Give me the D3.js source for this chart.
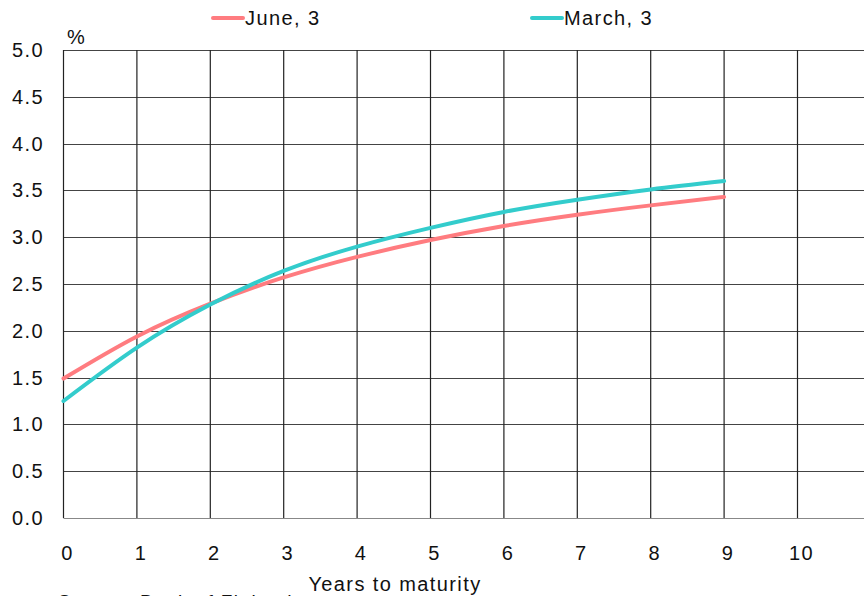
<!DOCTYPE html>
<html>
<head>
<meta charset="utf-8">
<script src="https://cdn.jsdelivr.net/npm/d3@7"></script>
<style>
    body { margin: 0; background: #fff; }
    svg { display: block; font-family: "Liberation Sans", Arial, sans-serif; }
    svg text { letter-spacing: 1.4px; }
</style>
</head>
<body>
<div id="chart"></div>
<script>
// years to maturity and yields (%)
const maturities = [0, 1, 2, 3, 4, 5, 6, 7, 8, 9];
const june3 = [1.49, 1.94, 2.29, 2.57, 2.79, 2.97, 3.12, 3.24, 3.34, 3.43];
const march3 = [1.25, 1.82, 2.28, 2.64, 2.90, 3.10, 3.27, 3.40, 3.51, 3.60];
const xTicks = [0, 1, 2, 3, 4, 5, 6, 7, 8, 9, 10];
const yTicks = [0, 0.5, 1, 1.5, 2, 2.5, 3, 3.5, 4, 4.5, 5];

const seriesList = [
    { name: "June, 3", values: june3, color: "#FF7C80", legendX: 213 },
    { name: "March, 3", values: march3, color: "#33CCCC", legendX: 532 }
];

const width = 864, height = 596;
const margin = { left: 63.5, top: 50, bottom: 78 };

const svg = d3.select("#chart").append("svg")
    .attr("width", width)
    .attr("height", height);

// x extends past the right edge of the window
const x = d3.scaleLinear().domain([0, 1]).range([margin.left, margin.left + 73.4]);
const y = d3.scaleLinear().domain([0, 5]).range([height - margin.bottom, margin.top]);

// gridlines
let grid = svg.append("g").attr("class", "grids");
grid.selectAll(".hgrid")
    .data(yTicks)
    .enter().append("line")
    .attr("x1", margin.left).attr("x2", width)
    .attr("y1", d => Math.round(y(d)) + 0.5).attr("y2", d => Math.round(y(d)) + 0.5)
    .attr("stroke", d => d == 0 ? "#888" : "#444")
    .attr("stroke-width", 1.2);
grid.selectAll(".vgrid")
    .data(xTicks)
    .enter().append("line")
    .attr("x1", d => x(d)).attr("x2", d => x(d))
    .attr("y1", y(5)).attr("y2", y(0))
    .attr("stroke", "#222")
    .attr("stroke-width", 1.2);

// y tick labels
svg.append("g").selectAll("text")
    .data(yTicks)
    .enter().append("text")
    .attr("x", 44)
    .attr("y", d => y(d) + 7)
    .attr("text-anchor", "end")
    .attr("font-size", 20)
    .attr("fill", "#111")
    .text(d => d3.format(".1f")(d));

// x tick labels
svg.append("g").selectAll("text")
    .data(xTicks)
    .enter().append("text")
    .attr("x", d => x(d) + 4)
    .attr("y", 560)
    .attr("text-anchor", "middle")
    .attr("font-size", 20)
    .attr("fill", "#111")
    .text(d => d);

svg.append("text")
    .attr("x", 67).attr("y", 44)
    .attr("font-size", 20)
    .attr("fill", "#111")
    .text("%");

svg.append("text")
    .attr("x", 395).attr("y", 591)
    .attr("text-anchor", "middle")
    .attr("font-size", 20)
    .attr("fill", "#111")
    .text("Years to maturity");

svg.append("text")
    .attr("x", 58).attr("y", 608)
    .attr("font-size", 19)
    .attr("fill", "#111")
    .text("Source: Bank of Finland");

// lines
const line = d3.line()
    .x((d, i) => x(maturities[i]))
    .y(d => y(d))
    .curve(d3.curveNatural);

svg.append("g").selectAll("path")
    .data(seriesList)
    .enter().append("path")
    .attr("d", d => line(d.values))
    .attr("fill", "none")
    .attr("stroke", d => d.color)
    .attr("stroke-width", 4)
    .attr("stroke-linecap", "round");

// legend
let legend = svg.append("g").selectAll("g")
    .data(seriesList)
    .enter().append("g")
    .attr("transform", d => `translate(${d.legendX}, 18)`);
legend.append("line")
    .attr("x1", 0).attr("x2", 30)
    .attr("stroke", d => d.color)
    .attr("stroke-width", 4)
    .attr("stroke-linecap", "round");
legend.append("text")
    .attr("x", 32).attr("y", 7)
    .attr("font-size", 20)
    .attr("fill", "#111")
    .text(d => d.name);
</script>
</body>
</html>
